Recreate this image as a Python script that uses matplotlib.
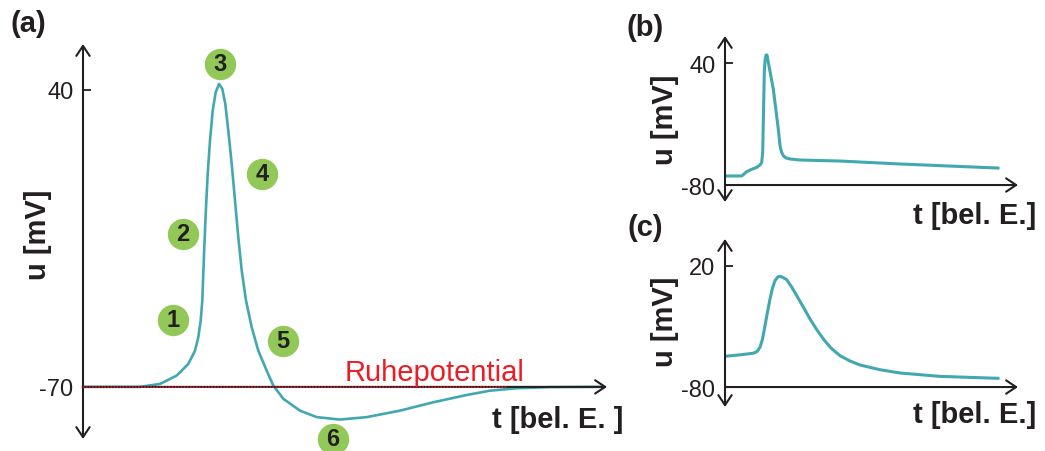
import matplotlib.pyplot as plt

plt.rcParams['font.family'] = ['Liberation Sans', 'DejaVu Sans']

# =============================================================================
# DATEN
# =============================================================================

# (a) Aktionspotential, Zeit in bel. Einheiten, u in mV
t_a = [0.0, 5.7, 7.7, 9.37, 10.53, 11.2, 11.53, 11.77, 11.93, 12.03, 12.13,
       12.27, 12.47, 12.7, 12.97, 13.27, 13.6, 13.93, 14.23, 14.53, 14.87, 15.2,
       15.53, 15.87, 16.3, 16.87, 17.53, 18.37, 19.03, 20.03, 21.7, 23.37, 25.7,
       28.37, 31.7, 35.03, 38.37, 40.7, 43.37, 46.7, 51.7]
u_a = [-70.0, -70.0, -68.9, -65.8, -61.5, -56.6, -51.6, -45.4, -38.0, -28.1,
       -18.3, -5.9, 8.9, 21.2, 32.3, 39.1, 42.2, 40.4, 34.8, 24.9, 12.6, -1.0,
       -14.6, -26.9, -38.0, -47.9, -56.6, -64.0, -69.5, -74.4, -78.8, -81.2,
       -82.1, -81.2, -78.8, -75.7, -73.0, -71.4, -70.5, -70.1, -70.0]
ruhe_a = -70
ticks_a = [-70, 40]

# Phasen-Markierungen 1..6
phase_nr = ["1", "2", "3", "4", "5", "6"]
phase_t = [9.0, 10.0, 13.7, 17.9, 20.0, 25.0]
phase_u = [-45.2, -13.3, 49.6, 8.9, -52.9, -89.3]

# (b)
t_b = [0.0, 1.67, 1.9, 2.17, 2.6, 3.17, 3.5, 3.67, 3.77, 3.83, 3.93, 4.0, 4.1,
       4.2, 4.33, 4.83, 5.33, 5.5, 5.65, 5.83, 6.1, 6.5, 7.5, 11.5, 17.5, 27.3]
u_b = [-71.1, -71.1, -69.2, -66.9, -64.8, -62.6, -60.3, -57.7, -47.8, -18.3,
       30.8, 42.0, 47.9, 47.9, 40.7, 14.4, -24.9, -41.3, -47.5, -51.2, -53.4,
       -54.4, -55.4, -56.4, -59.3, -63.3]
ticks_b = [-80, 40]

# (c)
t_c = [0.0, 1.5, 2.83, 3.2, 3.5, 3.75, 4.0, 4.25, 4.5, 4.75, 5.0, 5.25, 5.5,
       5.8, 6.17, 6.67, 7.17, 7.8, 8.5, 9.17, 9.83, 10.6, 11.5, 12.5, 13.5,
       15.5, 17.5, 21.5, 27.3]
u_c = [-54.6, -53.4, -52.1, -50.7, -47.2, -40.3, -29.3, -18.0, -7.3, 1.8, 7.9,
       10.7, 11.5, 10.5, 8.7, 2.6, -4.5, -13.5, -23.8, -32.5, -40.3, -47.8,
       -54.1, -58.5, -61.8, -65.7, -68.4, -71.2, -72.8]
ticks_c = [-80, 20]

TEAL = "#42a8b0"
GREEN = "#92c857"
DUNKEL = "#231f20"
FS = 17

# =============================================================================
# FIGUR
# =============================================================================

W, H = 1045, 452
fig = plt.figure(figsize=(W / 100, H / 100), dpi=100)


def px_axes(left, top, right, bottom):
    return fig.add_axes([left / W, 1 - bottom / H, (right - left) / W, (bottom - top) / H])


def pfx(x, y):
    return x / W, 1 - y / H


def achsen(ax, y0, ticks):
    for s in ax.spines.values():
        s.set_visible(False)
    ax.set_xticks([])
    ax.set_yticks(ticks)
    ax.set_yticklabels([str(v) for v in ticks], fontsize=FS)
    ax.tick_params(axis="y", direction="in", length=6, width=1.3, pad=7,
                   colors=DUNKEL, labelcolor=DUNKEL)
    pfeil = dict(arrowstyle="->,head_length=0.45,head_width=0.3", lw=1.5,
                 color=DUNKEL, mutation_scale=16, shrinkA=0, shrinkB=0)
    pfeil2 = dict(pfeil, arrowstyle="<->,head_length=0.45,head_width=0.3")
    ax.annotate("", xy=(0, 1), xytext=(0, 0), xycoords="axes fraction",
                arrowprops=pfeil2, annotation_clip=False)
    ax.annotate("", xy=(ax.get_xlim()[1], y0), xytext=(0, y0), xycoords="data",
                arrowprops=pfeil, annotation_clip=False)


def beschriftung(x_u, y_u, x_t, y_t, x_p, y_p, t_text, panel):
    fig.text(*pfx(x_u, y_u), "u [mV]", rotation=90, ha="center", va="center",
             fontsize=21, fontweight="bold", color=DUNKEL)
    fig.text(*pfx(x_t, y_t), t_text, ha="center", va="center",
             fontsize=21, fontweight="bold", color=DUNKEL)
    fig.text(*pfx(x_p, y_p), panel, ha="center", va="center", fontsize=21,
             fontweight="bold", color=DUNKEL)


# ---- (a) ----
ax = px_axes(83, 45, 607, 440)
ax.set_xlim(0, 52.4)
ax.set_ylim(-89.3, 57.0)
achsen(ax, ruhe_a, ticks_a)
ax.plot(t_a, u_a, color=TEAL, lw=1.9, solid_joinstyle="round", clip_on=False)
ax.plot([0, 42.4], [ruhe_a, ruhe_a], color="#ed1c24", lw=1.1, ls=(0, (1, 1)), zorder=4)
ax.text(26.2, -67.5, "Ruhepotential", color="#ed1c24", fontsize=21, va="baseline")
ax.scatter(phase_t, phase_u, s=510, color=GREEN, zorder=5, clip_on=False, linewidths=0)
for n, tt, uu in zip(phase_nr, phase_t, phase_u):
    ax.text(tt, uu, n, ha="center", va="center", fontsize=17, fontweight="bold",
            color=DUNKEL, zorder=6)
beschriftung(38, 235, 558, 420, 28, 24, "t [bel. E. ]", "(a)")

# ---- (b) ----
ax = px_axes(725, 37, 1018, 203)
ax.set_xlim(0, 29.3)
ax.set_ylim(-96.7, 66.6)
achsen(ax, -80, ticks_b)
ax.plot(t_b, u_b, color=TEAL, lw=2.2, solid_joinstyle="round")
beschriftung(665, 120, 975, 216, 645, 28, "t [bel. E.]", "(b)")

# ---- (c) ----
ax = px_axes(725, 240, 1018, 408)
ax.set_xlim(0, 29.3)
ax.set_ylim(-96.5, 42.3)
achsen(ax, -80, ticks_c)
ax.plot(t_c, u_c, color=TEAL, lw=2.2, solid_joinstyle="round")
beschriftung(665, 322, 975, 415, 645, 228, "t [bel. E.]", "(c)")

plt.savefig("out.png", dpi=100)
